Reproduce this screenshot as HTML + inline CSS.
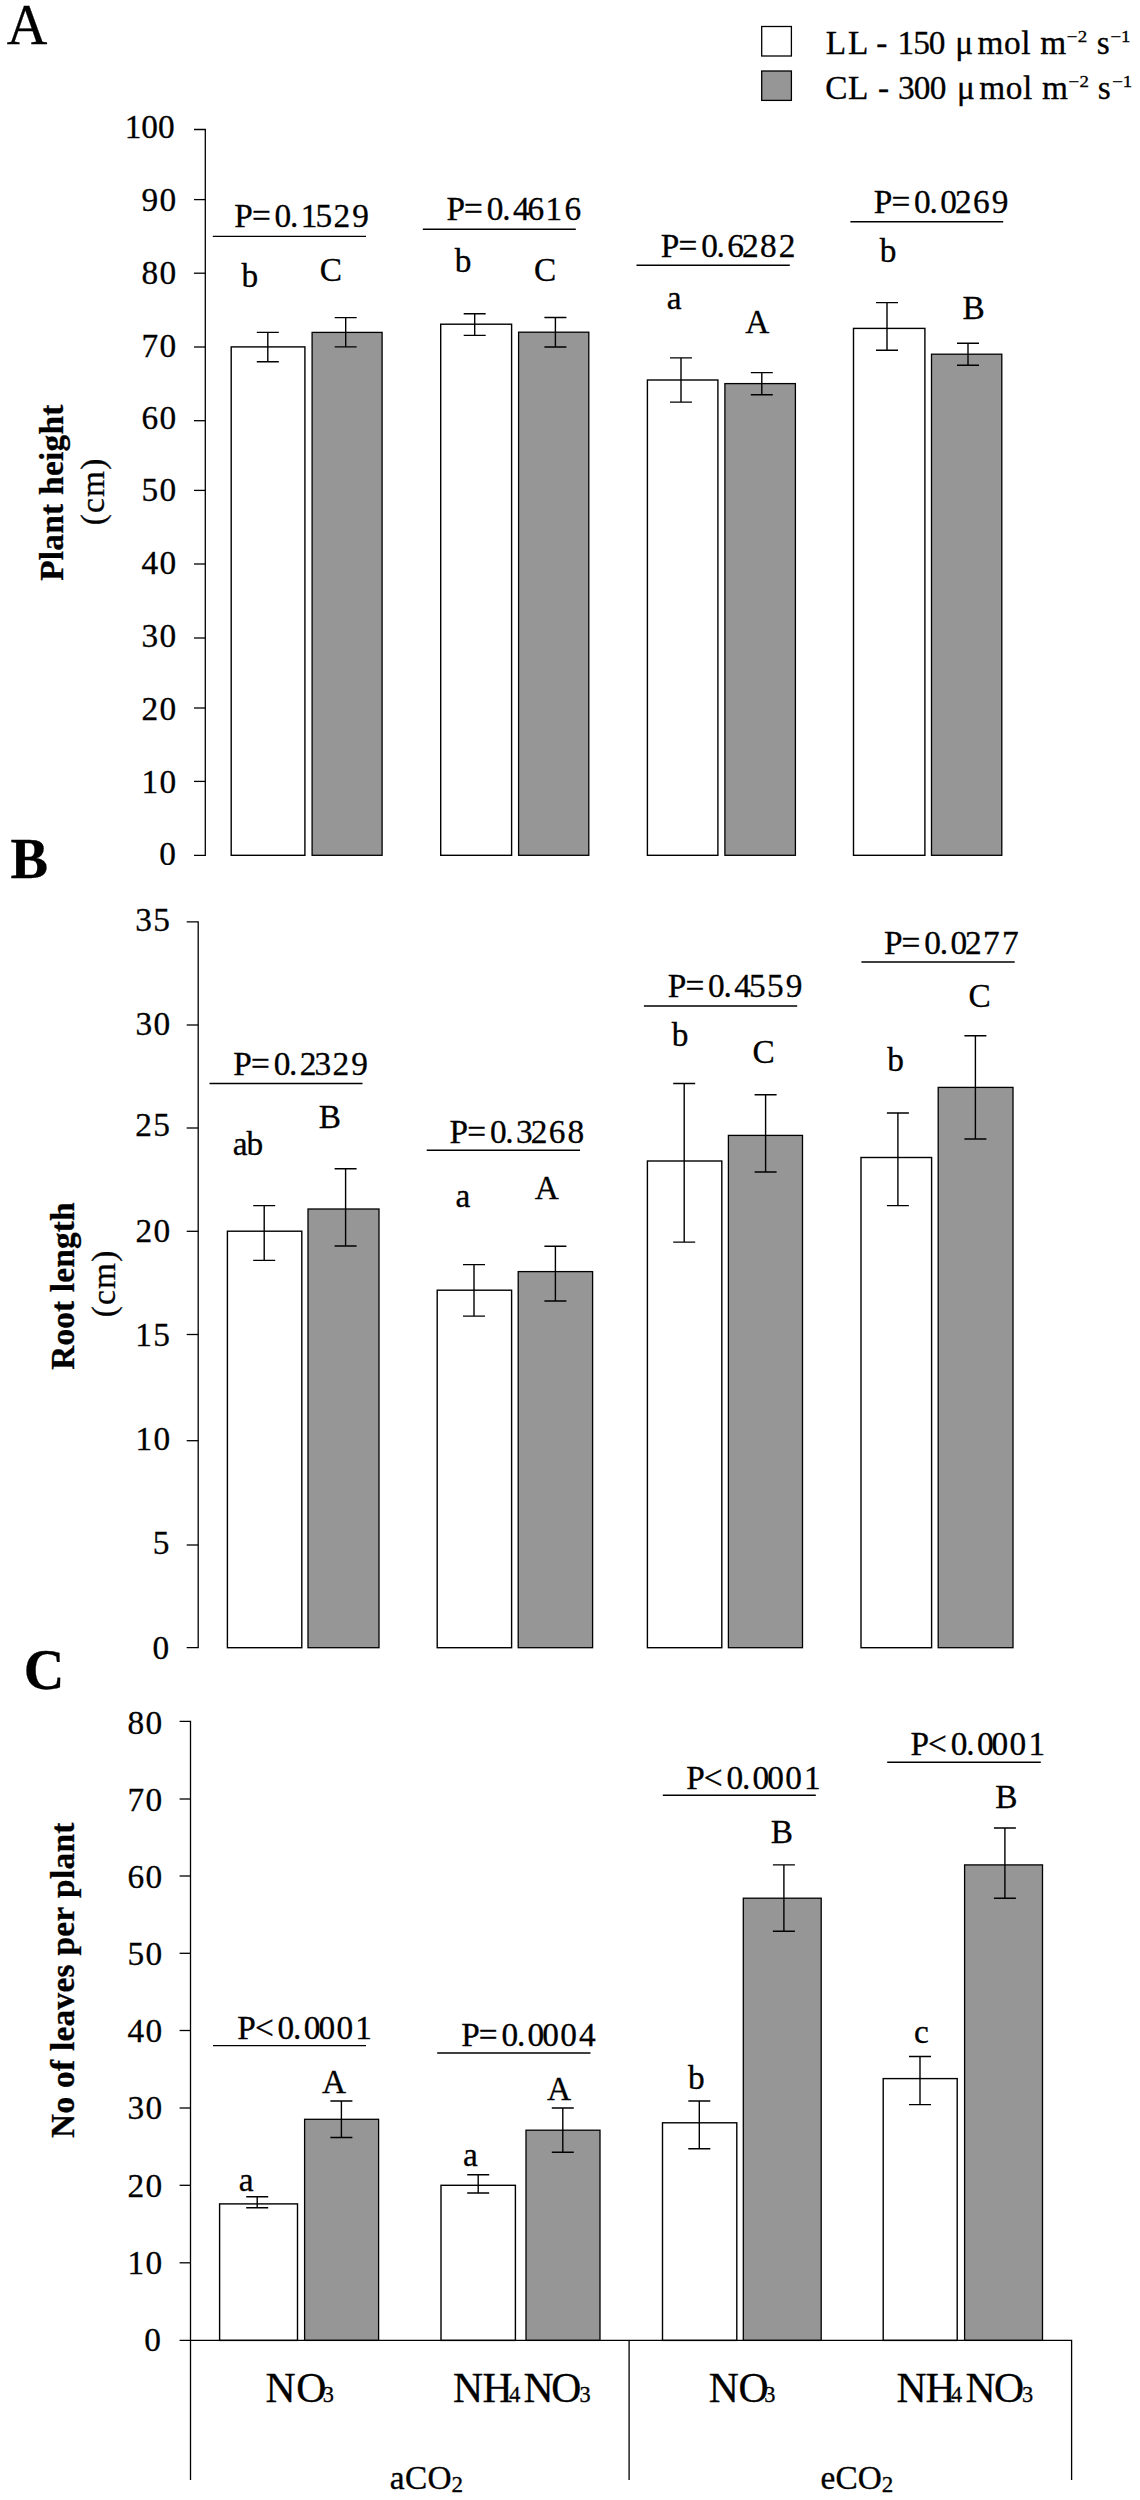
<!DOCTYPE html>
<html lang="en"><head><meta charset="utf-8"><title>Figure</title>
<style>
html,body{margin:0;padding:0;background:#fff;}
svg{display:block;}
text{font-family:'Liberation Serif',serif;fill:#000;stroke:#000;stroke-width:0.3px;font-kerning:none;}
</style></head>
<body>
<svg width="1140" height="2500" viewBox="0 0 1140 2500">
<defs><clipPath id="clipA0"><rect x="0" y="800" width="400" height="64.9"/></clipPath></defs>
<rect width="1140" height="2500" fill="#fff"/>
<g id="chartA">
<text x="124.67" y="137.6" font-size="33.33" letter-spacing="0">100</text>
<text x="141.54" y="210.7" font-size="33.33" letter-spacing="1.4">90</text>
<text x="141.54" y="283.5" font-size="33.33" letter-spacing="1.4">80</text>
<text x="141.54" y="357" font-size="33.33" letter-spacing="1.4">70</text>
<text x="141.54" y="429" font-size="33.33" letter-spacing="1.4">60</text>
<text x="141.54" y="501.4" font-size="33.33" letter-spacing="1.4">50</text>
<text x="141.54" y="574.4" font-size="33.33" letter-spacing="1.4">40</text>
<text x="141.54" y="647.4" font-size="33.33" letter-spacing="1.4">30</text>
<text x="141.54" y="720" font-size="33.33" letter-spacing="1.4">20</text>
<text x="141.54" y="792.6" font-size="33.33" letter-spacing="1.4">10</text>
<g clip-path="url(#clipA0)">
<text x="159.2" y="865.2" font-size="33.33">0</text>
</g>
<rect x="231.2" y="346.9" width="73.7" height="508.4" fill="#fff" stroke="#000" stroke-width="1.4"/>
<rect x="312.1" y="332.4" width="70" height="522.9" fill="#969696" stroke="#000" stroke-width="1.3"/>
<rect x="440.7" y="324.2" width="70.9" height="531.1" fill="#fff" stroke="#000" stroke-width="1.4"/>
<rect x="518.6" y="332.2" width="70.2" height="523.1" fill="#969696" stroke="#000" stroke-width="1.3"/>
<rect x="647.4" y="380" width="70.5" height="475.3" fill="#fff" stroke="#000" stroke-width="1.4"/>
<rect x="724.9" y="383.6" width="70.5" height="471.7" fill="#969696" stroke="#000" stroke-width="1.3"/>
<rect x="853.5" y="328.4" width="71.4" height="526.9" fill="#fff" stroke="#000" stroke-width="1.4"/>
<rect x="931.5" y="354.2" width="70.3" height="501.1" fill="#969696" stroke="#000" stroke-width="1.3"/>
<path d="M194 129.5H205.3V855.3H194" fill="none" stroke="#000" stroke-width="1.3"/>
<line x1="194" y1="199.6" x2="205.3" y2="199.6" stroke="#000" stroke-width="1.3"/>
<line x1="194" y1="273.2" x2="205.3" y2="273.2" stroke="#000" stroke-width="1.3"/>
<line x1="194" y1="347" x2="205.3" y2="347" stroke="#000" stroke-width="1.3"/>
<line x1="194" y1="420.7" x2="205.3" y2="420.7" stroke="#000" stroke-width="1.3"/>
<line x1="194" y1="490.4" x2="205.3" y2="490.4" stroke="#000" stroke-width="1.3"/>
<line x1="194" y1="564" x2="205.3" y2="564" stroke="#000" stroke-width="1.3"/>
<line x1="194" y1="638" x2="205.3" y2="638" stroke="#000" stroke-width="1.3"/>
<line x1="194" y1="708" x2="205.3" y2="708" stroke="#000" stroke-width="1.3"/>
<line x1="194" y1="781.4" x2="205.3" y2="781.4" stroke="#000" stroke-width="1.3"/>
<path d="M267.8 332.4V361.7M256.8 332.4H278.8M256.8 361.7H278.8" stroke="#000" stroke-width="1.4" fill="none"/>
<path d="M345.7 317.6V346.9M334.7 317.6H356.7M334.7 346.9H356.7" stroke="#000" stroke-width="1.4" fill="none"/>
<path d="M474.7 313.7V335.4M463.7 313.7H485.7M463.7 335.4H485.7" stroke="#000" stroke-width="1.4" fill="none"/>
<path d="M555.4 317.5V347M544.4 317.5H566.4M544.4 347H566.4" stroke="#000" stroke-width="1.4" fill="none"/>
<path d="M681 357.9V402.1M670 357.9H692M670 402.1H692" stroke="#000" stroke-width="1.4" fill="none"/>
<path d="M761.8 372.6V394.7M750.8 372.6H772.8M750.8 394.7H772.8" stroke="#000" stroke-width="1.4" fill="none"/>
<path d="M887 302.6V350.3M876 302.6H898M876 350.3H898" stroke="#000" stroke-width="1.4" fill="none"/>
<path d="M968 343.2V365.3M957 343.2H979M957 365.3H979" stroke="#000" stroke-width="1.4" fill="none"/>
<line x1="212.8" y1="236.4" x2="366" y2="236.4" stroke="#000" stroke-width="1.4"/>
<text x="234.24 251.9 274.6 290 300.7 315.4 333.4 352.2" y="226.6" font-size="33.33">P=0.1529</text>
<line x1="422.8" y1="229.2" x2="575.8" y2="229.2" stroke="#000" stroke-width="1.4"/>
<text x="446.44 464.1 486.8 502.2 512.9 527.6 545.6 564.4" y="219.6" font-size="33.33">P=0.4616</text>
<line x1="636.5" y1="265.3" x2="789.8" y2="265.3" stroke="#000" stroke-width="1.4"/>
<text x="660.84 678.5 701.2 716.6 727.3 742 760 778.8" y="256.5" font-size="33.33">P=0.6282</text>
<line x1="850.4" y1="221.8" x2="1003.2" y2="221.8" stroke="#000" stroke-width="1.4"/>
<text x="873.74 891.4 914.1 929.5 940.2 954.9 972.9 991.7" y="212.8" font-size="33.33">P=0.0269</text>
<text x="241.6" y="287" font-size="33.33">b</text>
<text x="319.82" y="281" font-size="33.33">C</text>
<text x="454.8" y="271.6" font-size="33.33">b</text>
<text x="534.12" y="281" font-size="33.33">C</text>
<text x="666.65" y="309" font-size="33.33">a</text>
<text x="745.22" y="332.6" font-size="33.33">A</text>
<text x="879.8" y="262" font-size="33.33">b</text>
<text x="962.42" y="319.3" font-size="33.33">B</text>
<text transform="translate(62.9 580.3) rotate(-90)" x="-0.57" y="0" font-size="33.33" font-weight="bold" letter-spacing="0.28">Plant height</text>
<text transform="translate(103.7 523.8) rotate(-90)" x="-1.46" y="0" font-size="33.33" letter-spacing="1.2">(cm)</text>
</g>
<rect x="761.7" y="26.5" width="29.7" height="29.5" fill="#fff" stroke="#000" stroke-width="1.3"/>
<rect x="761.7" y="71" width="29.7" height="29.4" fill="#969696" stroke="#000" stroke-width="1.3"/>
<text x="825.64" y="53.7" font-size="33.33" letter-spacing="1.94">LL</text>
<text x="876.36" y="53.7" font-size="33.33">-</text>
<text x="897.47" y="53.7" font-size="33.33" letter-spacing="-1">150</text>
<text x="955.3" y="53.7" font-size="33.33">μ</text>
<text x="977.4" y="53.7" font-size="33.33" letter-spacing="0.68">mol m</text>
<text x="1096.63" y="53.7" font-size="33.33">s</text>
<text transform="translate(1067.6 42.1) scale(1.18 1)" x="-0.8" y="0" font-size="16" letter-spacing="0.4">−2</text>
<text transform="translate(1111.5 42.1) scale(1.18 1)" x="-0.8" y="0" font-size="16" letter-spacing="-0.2">−1</text>
<text x="825.23" y="98.8" font-size="33.33" letter-spacing="0.48">CL</text>
<text x="877.96" y="98.8" font-size="33.33">-</text>
<text x="897.91" y="98.8" font-size="33.33" letter-spacing="-0.77">300</text>
<text x="957.1" y="98.8" font-size="33.33">μ</text>
<text x="979.2" y="98.8" font-size="33.33" letter-spacing="0.63">mol m</text>
<text x="1097.83" y="98.8" font-size="33.33">s</text>
<text transform="translate(1069.4 87.2) scale(1.18 1)" x="-0.8" y="0" font-size="16" letter-spacing="0.4">−2</text>
<text transform="translate(1113.2 87.2) scale(1.18 1)" x="-0.8" y="0" font-size="16" letter-spacing="-0.2">−1</text>
<text x="6.75" y="43.6" font-size="56.25">A</text>
<text x="10.57" y="878.2" font-size="56.25" font-weight="bold">B</text>
<text x="23.65" y="1688.8" font-size="56.25" font-weight="bold">C</text>
<g id="chartB">
<text x="135.27" y="930.7" font-size="33.33" letter-spacing="1.4">35</text>
<text x="135.44" y="1034.5" font-size="33.33" letter-spacing="1.4">30</text>
<text x="135.27" y="1135.8" font-size="33.33" letter-spacing="1.4">25</text>
<text x="135.54" y="1242" font-size="33.33" letter-spacing="1.4">20</text>
<text x="135.17" y="1346.4" font-size="33.33" letter-spacing="1.4">15</text>
<text x="135.54" y="1450.3" font-size="33.33" letter-spacing="1.4">10</text>
<text x="152.64" y="1554.4" font-size="33.33">5</text>
<text x="152.6" y="1658.7" font-size="33.33">0</text>
<rect x="227.4" y="1231.2" width="74.4" height="416.5" fill="#fff" stroke="#000" stroke-width="1.4"/>
<rect x="308" y="1209" width="71" height="438.7" fill="#969696" stroke="#000" stroke-width="1.3"/>
<rect x="437.2" y="1290.2" width="74.4" height="357.5" fill="#fff" stroke="#000" stroke-width="1.4"/>
<rect x="518.2" y="1271.6" width="74.4" height="376.1" fill="#969696" stroke="#000" stroke-width="1.3"/>
<rect x="647.4" y="1161" width="74.4" height="486.7" fill="#fff" stroke="#000" stroke-width="1.4"/>
<rect x="728.4" y="1135.4" width="74.1" height="512.3" fill="#969696" stroke="#000" stroke-width="1.3"/>
<rect x="861" y="1157.5" width="70.6" height="490.2" fill="#fff" stroke="#000" stroke-width="1.4"/>
<rect x="938.2" y="1087.4" width="74.8" height="560.3" fill="#969696" stroke="#000" stroke-width="1.3"/>
<path d="M186.7 921.8H198.2V1647.7H186.7" fill="none" stroke="#000" stroke-width="1.3"/>
<line x1="186.7" y1="1025" x2="198.2" y2="1025" stroke="#000" stroke-width="1.3"/>
<line x1="186.7" y1="1128" x2="198.2" y2="1128" stroke="#000" stroke-width="1.3"/>
<line x1="186.7" y1="1231.3" x2="198.2" y2="1231.3" stroke="#000" stroke-width="1.3"/>
<line x1="186.7" y1="1334.5" x2="198.2" y2="1334.5" stroke="#000" stroke-width="1.3"/>
<line x1="186.7" y1="1440.7" x2="198.2" y2="1440.7" stroke="#000" stroke-width="1.3"/>
<line x1="186.7" y1="1545" x2="198.2" y2="1545" stroke="#000" stroke-width="1.3"/>
<path d="M264.2 1205.6V1260.4M253.2 1205.6H275.2M253.2 1260.4H275.2" stroke="#000" stroke-width="1.4" fill="none"/>
<path d="M345.6 1168.8V1246M334.6 1168.8H356.6M334.6 1246H356.6" stroke="#000" stroke-width="1.4" fill="none"/>
<path d="M474 1264.6V1316.1M463 1264.6H485M463 1316.1H485" stroke="#000" stroke-width="1.4" fill="none"/>
<path d="M555.4 1246.3V1301M544.4 1246.3H566.4M544.4 1301H566.4" stroke="#000" stroke-width="1.4" fill="none"/>
<path d="M684.2 1083.5V1242.1M673.2 1083.5H695.2M673.2 1242.1H695.2" stroke="#000" stroke-width="1.4" fill="none"/>
<path d="M765.6 1094.7V1172M754.6 1094.7H776.6M754.6 1172H776.6" stroke="#000" stroke-width="1.4" fill="none"/>
<path d="M897.9 1113V1205.6M886.9 1113H908.9M886.9 1205.6H908.9" stroke="#000" stroke-width="1.4" fill="none"/>
<path d="M975.4 1035.8V1139M964.4 1035.8H986.4M964.4 1139H986.4" stroke="#000" stroke-width="1.4" fill="none"/>
<line x1="209.5" y1="1083.5" x2="362.5" y2="1083.5" stroke="#000" stroke-width="1.4"/>
<text x="233.34 251 273.7 289.1 299.8 314.5 332.5 351.3" y="1075" font-size="33.33">P=0.2329</text>
<line x1="426.7" y1="1150.2" x2="580" y2="1150.2" stroke="#000" stroke-width="1.4"/>
<text x="449.54 467.2 489.9 505.3 516 530.7 548.7 567.5" y="1142.8" font-size="33.33">P=0.3268</text>
<line x1="643.9" y1="1006" x2="797.2" y2="1006" stroke="#000" stroke-width="1.4"/>
<text x="667.74 685.4 708.1 723.5 734.2 748.9 766.9 785.7" y="996.5" font-size="33.33">P=0.4559</text>
<line x1="861.4" y1="962" x2="1014.7" y2="962" stroke="#000" stroke-width="1.4"/>
<text x="883.94 901.6 924.3 939.7 950.4 965.1 983.1 1001.9" y="953.7" font-size="33.33">P=0.0277</text>
<text x="232.63" y="1154.7" font-size="33.33" letter-spacing="-0.82">ab</text>
<text x="318.72" y="1128.4" font-size="33.33">B</text>
<text x="455.45" y="1207" font-size="33.33">a</text>
<text x="534.72" y="1198.6" font-size="33.33">A</text>
<text x="671.8" y="1045.6" font-size="33.33">b</text>
<text x="752.62" y="1063.2" font-size="33.33">C</text>
<text x="887.3" y="1070.9" font-size="33.33">b</text>
<text x="968.42" y="1007" font-size="33.33">C</text>
<text transform="translate(73.5 1369.3) rotate(-90)" x="-0.57" y="0" font-size="33.33" font-weight="bold" letter-spacing="0.17">Root length</text>
<text transform="translate(114.8 1315.8) rotate(-90)" x="-1.46" y="0" font-size="33.33" letter-spacing="1.2">(cm)</text>
</g>
<g id="chartC">
<text x="127.54" y="1734" font-size="33.33" letter-spacing="1.4">80</text>
<text x="127.54" y="1811.2" font-size="33.33" letter-spacing="1.4">70</text>
<text x="127.54" y="1888.4" font-size="33.33" letter-spacing="1.4">60</text>
<text x="127.54" y="1965.3" font-size="33.33" letter-spacing="1.4">50</text>
<text x="127.54" y="2041.8" font-size="33.33" letter-spacing="1.4">40</text>
<text x="127.54" y="2119.4" font-size="33.33" letter-spacing="1.4">30</text>
<text x="127.54" y="2196.5" font-size="33.33" letter-spacing="1.4">20</text>
<text x="127.54" y="2274" font-size="33.33" letter-spacing="1.4">10</text>
<text x="144.2" y="2350.6" font-size="33.33">0</text>
<rect x="219.6" y="2203.9" width="77.9" height="136.5" fill="#fff" stroke="#000" stroke-width="1.4"/>
<rect x="304.6" y="2119.3" width="74" height="221.1" fill="#969696" stroke="#000" stroke-width="1.3"/>
<rect x="441" y="2185.3" width="74.4" height="155.1" fill="#fff" stroke="#000" stroke-width="1.4"/>
<rect x="526" y="2130.2" width="74" height="210.2" fill="#969696" stroke="#000" stroke-width="1.3"/>
<rect x="662.5" y="2122.8" width="74.3" height="217.6" fill="#fff" stroke="#000" stroke-width="1.4"/>
<rect x="743.3" y="1898.2" width="77.9" height="442.2" fill="#969696" stroke="#000" stroke-width="1.3"/>
<rect x="883.2" y="2078.6" width="74" height="261.8" fill="#fff" stroke="#000" stroke-width="1.4"/>
<rect x="964.6" y="1864.9" width="77.9" height="475.5" fill="#969696" stroke="#000" stroke-width="1.3"/>
<path d="M179.6 1721.4H190.5V2480M179.6 2340.4H1071.6V2480M629.1 2340.4V2480" fill="none" stroke="#000" stroke-width="1.3"/>
<line x1="179.6" y1="1799" x2="190.5" y2="1799" stroke="#000" stroke-width="1.3"/>
<line x1="179.6" y1="1876" x2="190.5" y2="1876" stroke="#000" stroke-width="1.3"/>
<line x1="179.6" y1="1953.3" x2="190.5" y2="1953.3" stroke="#000" stroke-width="1.3"/>
<line x1="179.6" y1="2030.5" x2="190.5" y2="2030.5" stroke="#000" stroke-width="1.3"/>
<line x1="179.6" y1="2108" x2="190.5" y2="2108" stroke="#000" stroke-width="1.3"/>
<line x1="179.6" y1="2185.3" x2="190.5" y2="2185.3" stroke="#000" stroke-width="1.3"/>
<line x1="179.6" y1="2262.8" x2="190.5" y2="2262.8" stroke="#000" stroke-width="1.3"/>
<path d="M257.2 2196.8V2207.7M246.2 2196.8H268.2M246.2 2207.7H268.2" stroke="#000" stroke-width="1.4" fill="none"/>
<path d="M341.4 2101V2137.5M330.4 2101H352.4M330.4 2137.5H352.4" stroke="#000" stroke-width="1.4" fill="none"/>
<path d="M478.2 2174.7V2193M467.2 2174.7H489.2M467.2 2193H489.2" stroke="#000" stroke-width="1.4" fill="none"/>
<path d="M562.8 2108V2152.3M551.8 2108H573.8M551.8 2152.3H573.8" stroke="#000" stroke-width="1.4" fill="none"/>
<path d="M699.3 2101V2148.8M688.3 2101H710.3M688.3 2148.8H710.3" stroke="#000" stroke-width="1.4" fill="none"/>
<path d="M783.9 1864.9V1931.2M772.9 1864.9H794.9M772.9 1931.2H794.9" stroke="#000" stroke-width="1.4" fill="none"/>
<path d="M920 2056.5V2104.6M909 2056.5H931M909 2104.6H931" stroke="#000" stroke-width="1.4" fill="none"/>
<path d="M1004.9 1828V1898.2M993.9 1828H1015.9M993.9 1898.2H1015.9" stroke="#000" stroke-width="1.4" fill="none"/>
<line x1="213" y1="2045.6" x2="366" y2="2045.6" stroke="#000" stroke-width="1.4"/>
<text x="237.24 254.9 277.6 293 303.7 318.4 336.4 355.2" y="2039.3" font-size="33.33">P&lt;0.0001</text>
<line x1="437.2" y1="2053" x2="590.5" y2="2053" stroke="#000" stroke-width="1.4"/>
<text x="461.14 478.8 501.5 516.9 527.6 542.3 560.3 579.1" y="2046" font-size="33.33">P=0.0004</text>
<line x1="662.8" y1="1795.2" x2="815.8" y2="1795.2" stroke="#000" stroke-width="1.4"/>
<text x="686.14 703.8 726.5 741.9 752.6 767.3 785.3 804.1" y="1789.3" font-size="33.33">P&lt;0.0001</text>
<line x1="887.2" y1="1762.2" x2="1040.8" y2="1762.2" stroke="#000" stroke-width="1.4"/>
<text x="910.44 928.1 950.8 966.2 976.9 991.6 1009.6 1028.4" y="1754.5" font-size="33.33">P&lt;0.0001</text>
<text x="238.75" y="2190.9" font-size="33.33">a</text>
<text x="321.92" y="2093.3" font-size="33.33">A</text>
<text x="462.95" y="2166.3" font-size="33.33">a</text>
<text x="546.92" y="2100.2" font-size="33.33">A</text>
<text x="688.1" y="2088.8" font-size="33.33">b</text>
<text x="770.82" y="1843.2" font-size="33.33">B</text>
<text x="913.88" y="2043.2" font-size="33.33">c</text>
<text x="995.22" y="1808" font-size="33.33">B</text>
<text transform="translate(73.5 2137.3) rotate(-90)" x="-0.63" y="0" font-size="33.33" font-weight="bold" letter-spacing="0.29">No of leaves per plant</text>
<text y="2402" font-size="41.67"><tspan x="265.4">N</tspan><tspan x="296.29">O</tspan><tspan x="322.73" font-size="22.3">3</tspan></text>
<text y="2402" font-size="41.67"><tspan x="453">N</tspan><tspan x="482.6">H</tspan><tspan x="509.16" font-size="22.3">4</tspan><tspan x="523.6">N</tspan><tspan x="551.29">O</tspan><tspan x="579.43" font-size="22.3">3</tspan></text>
<text y="2402" font-size="41.67"><tspan x="708.7">N</tspan><tspan x="738.49">O</tspan><tspan x="764.23" font-size="22.3">3</tspan></text>
<text y="2402" font-size="41.67"><tspan x="896.4">N</tspan><tspan x="925.4">H</tspan><tspan x="950.96" font-size="22.3">4</tspan><tspan x="965.4">N</tspan><tspan x="993.89">O</tspan><tspan x="1022.03" font-size="22.3">3</tspan></text>
<text y="2488.8" font-size="33.33"><tspan x="389.83" letter-spacing="0.37">aCO</tspan><tspan x="451.6" dy="3.3" font-size="23">2</tspan></text>
<text y="2488.8" font-size="33.33"><tspan x="820.6" letter-spacing="0.04">eCO</tspan><tspan x="881.7" dy="3.3" font-size="23">2</tspan></text>
</g>
</svg>
</body></html>
